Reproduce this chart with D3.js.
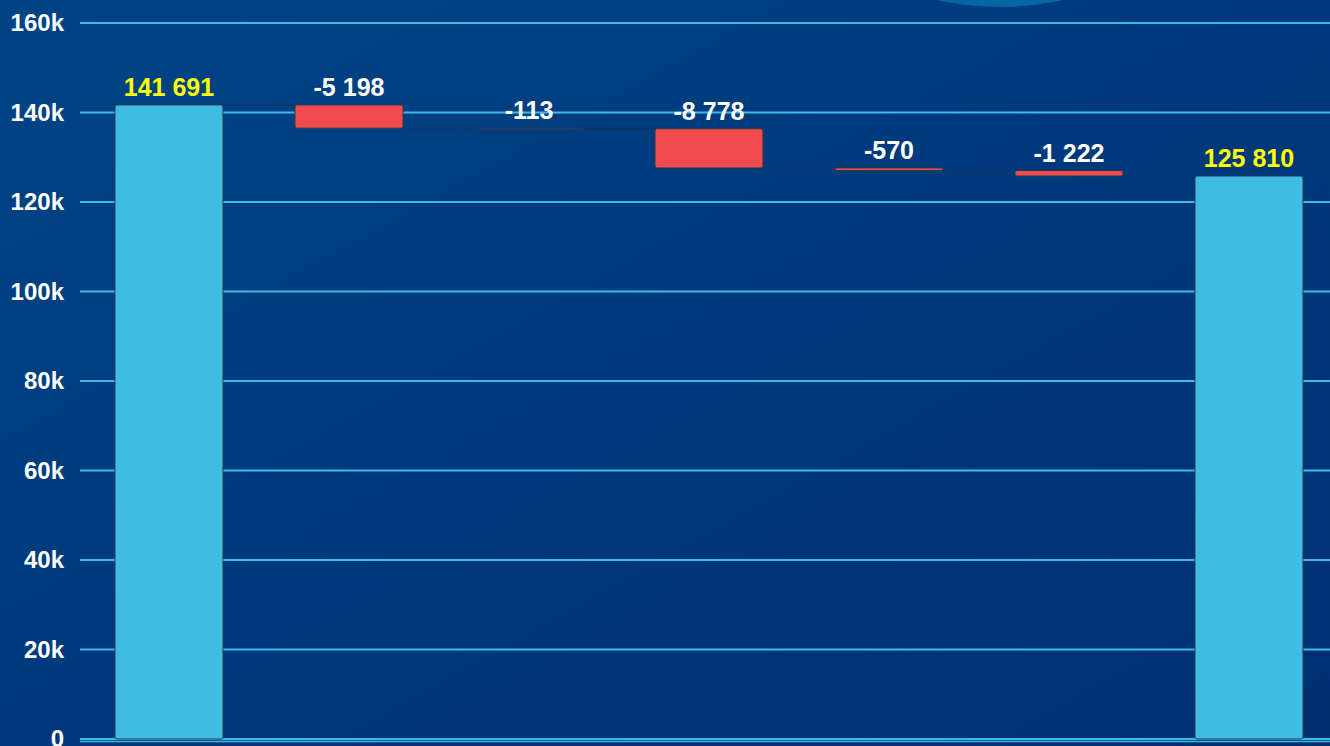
<!DOCTYPE html>
<html>
<head>
<meta charset="utf-8">
<script src="https://cdn.jsdelivr.net/npm/d3@7"></script>
<style>
  html, body { margin: 0; padding: 0; overflow: hidden; }
  svg { display: block; font-family: "Liberation Sans", Arial, sans-serif; }
</style>
</head>
<body>
<div id="chart"></div>
<script>
// waterfall steps (labels are not shown in the chart)
const categories = ['start', 's1', 's2', 's3', 's4', 's5', 'end']
const deltas = [141691, -5198, -113, -8778, -570, -1222, 125810]
const isTotal = [true, false, false, false, false, false, true]
const yTicks = [0, 20000, 40000, 60000, 80000, 100000, 120000, 140000, 160000]

const width = 1330, height = 746

let svg = d3.select('#chart').append('svg')
  .attr('width', width)
  .attr('height', height)

let defs = svg.append('defs')
let grad = defs.append('linearGradient')
  .attr('id', 'bg').attr('x1', 0).attr('y1', 0).attr('x2', 1).attr('y2', 1)
grad.append('stop').attr('offset', 0).attr('stop-color', '#004485')
grad.append('stop').attr('offset', 1).attr('stop-color', '#002f72')

svg.append('rect').attr('width', width).attr('height', height).attr('fill', 'url(#bg)')
svg.append('circle').attr('cx', 1000).attr('cy', -280).attr('r', 287).attr('fill', '#0367a6')

let x = d3.scaleBand().domain(categories).range([79, 1339])
  .paddingInner(0.4).paddingOuter(0.2)
let y = d3.scaleLinear().domain([0, 160000]).range([739, 23])

// running totals
let steps = []
let running = 0
deltas.forEach((d, i) => {
  if (isTotal[i]) {
    steps.push({ cat: categories[i], v: d, lo: 0, hi: d, end: d, total: true })
    running = d
  } else {
    let start = running
    running = start + d
    steps.push({ cat: categories[i], v: d, lo: Math.min(start, running), hi: Math.max(start, running), end: running, total: false })
  }
})

let grid = svg.append('g')
grid.selectAll('line')
  .data(yTicks)
  .enter()
  .append('line')
  .attr('x1', 80).attr('x2', width)
  .attr('y1', d => y(d)).attr('y2', d => y(d))
  .attr('stroke', '#3cbbe6')
  .attr('stroke-width', 2)
grid.append('line')
  .attr('x1', 80).attr('x2', width)
  .attr('y1', y(0) + 2.5).attr('y2', y(0) + 2.5)
  .attr('stroke', '#3cbbe6').attr('stroke-width', 1.5)

svg.append('g')
  .selectAll('text')
  .data(yTicks)
  .enter()
  .append('text')
  .attr('x', 64)
  .attr('y', d => y(d) + 8)
  .attr('text-anchor', 'end')
  .attr('fill', '#ffffff')
  .attr('font-size', 24)
  .attr('font-weight', 'bold')
  .text(d => d === 0 ? '0' : (d / 1000) + 'k')

// connectors
svg.append('g')
  .selectAll('line')
  .data(steps.slice(0, -1))
  .enter()
  .append('line')
  .attr('x1', d => x(d.cat) + x.bandwidth())
  .attr('x2', (d, i) => x(steps[i + 1].cat))
  .attr('y1', d => y(d.end)).attr('y2', d => y(d.end))
  .attr('stroke', '#1d2c44')
  .attr('stroke-width', 1.2)
  .attr('stroke-dasharray', '2,2')

svg.append('g')
  .selectAll('rect')
  .data(steps)
  .enter()
  .append('rect')
  .attr('x', d => x(d.cat))
  .attr('width', x.bandwidth())
  .attr('y', d => y(d.hi))
  .attr('height', d => Math.max(0.5, y(d.lo) - y(d.hi)))
  .attr('rx', 2)
  .attr('fill', d => d.total ? '#3dbce4' : '#f04c4f')
  .attr('stroke', '#2b3a4a')
  .attr('stroke-width', 1)

const fmt = v => d3.format(',')(v).replace(/,/g, ' ').replace('\u2212', '-')

svg.append('g')
  .selectAll('text')
  .data(steps)
  .enter()
  .append('text')
  .attr('x', d => x(d.cat) + x.bandwidth() / 2)
  .attr('y', d => y(d.hi) - 9)
  .attr('text-anchor', 'middle')
  .attr('fill', d => d.total ? '#ffff00' : '#ffffff')
  .attr('font-size', 25)
  .attr('font-weight', 'bold')
  .text(d => fmt(d.v))
</script>
</body>
</html>
